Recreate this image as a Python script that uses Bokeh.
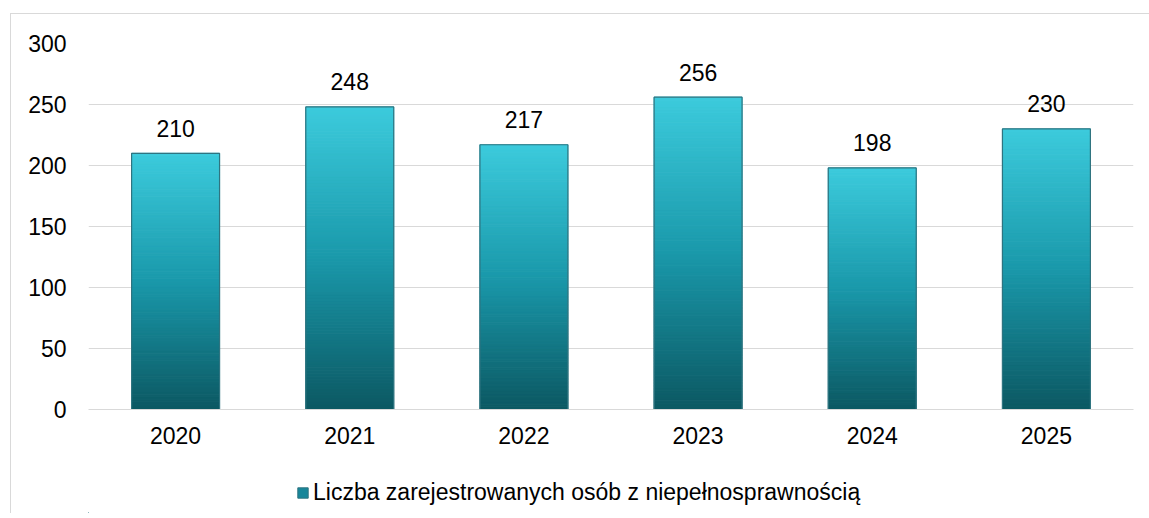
from bokeh.plotting import figure
from bokeh.layouts import column
from bokeh.models import Range1d, FactorRange, ColumnDataSource, Legend, LegendItem
from bokeh.core.properties import value
from bokeh.embed import file_html
from bokeh.resources import INLINE

years = ["2020", "2021", "2022", "2023", "2024", "2025"]
counts = [210, 248, 217, 256, 198, 230]
series_name = "Liczba zarejestrowanych osób z niepełnosprawnością"
y_ticks = [0, 50, 100, 150, 200, 250, 300]

FONT = "Liberation Sans"
FS = "23px"

p = figure(x_range=FactorRange(*years, range_padding=0), y_range=Range1d(0, 300),
           frame_width=1045, frame_height=366, output_backend="svg", toolbar_location=None,
           min_border_left=77, min_border_right=16, min_border_top=29, min_border_bottom=44)
p.outline_line_color = None
p.background_fill_color = "white"
p.border_fill_color = "white"

# gradient bars: each bar stacked from thin slices coloured bottom (dark) -> top (light)
stops = [(0.0, (12, 88, 98)), (0.5, (26, 152, 170)), (1.0, (60, 203, 220))]
def col(t):
    for (t0, c0), (t1, c1) in zip(stops[:-1], stops[1:]):
        if t <= t1:
            f = (t - t0) / (t1 - t0)
            return "#%02x%02x%02x" % tuple(int(round(a + (b - a) * f)) for a, b in zip(c0, c1))
    return "#%02x%02x%02x" % stops[-1][1]

N = 100
xs, bots, tops, cols = [], [], [], []
for yr, v in zip(years, counts):
    for i in range(N):
        xs.append(yr)
        bots.append(v * i / N)
        tops.append(v * (i + 1) / N)
        cols.append(col((i + 0.5) / N))
seg = ColumnDataSource(dict(x=xs, bottom=bots, top=tops, color=cols))
p.vbar(x="x", bottom="bottom", top="top", width=0.505, source=seg,
       fill_color="color", line_color="color", line_width=1)

src = ColumnDataSource(dict(x=years, top=counts, label=[str(c) for c in counts]))
p.vbar(x="x", top="top", width=0.505, source=src, fill_alpha=0,
       line_color="#2f7480", line_width=1.2)

p.text(x="x", y="top", text="label", source=src, text_align="center",
       text_baseline="alphabetic", y_offset=-25, text_font=value(FONT),
       text_font_size=FS, text_color="#000000")

# axes
p.yaxis.ticker = y_ticks
p.yaxis.axis_line_color = None
p.yaxis.major_tick_line_color = None
p.yaxis.minor_tick_line_color = None
p.yaxis.major_tick_out = 0
p.yaxis.minor_tick_out = 0
p.yaxis.major_label_standoff = 22
p.yaxis.major_label_text_font = FONT
p.yaxis.major_label_text_font_size = FS
p.yaxis.major_label_text_color = "#000000"

p.xaxis.axis_line_color = "#d9d9d9"
p.xaxis.axis_line_width = 1
p.xaxis.major_tick_line_color = None
p.xaxis.minor_tick_line_color = None
p.xaxis.major_tick_out = 0
p.xaxis.minor_tick_out = 0
p.xaxis.major_label_standoff = 17
p.xaxis.major_label_text_font = FONT
p.xaxis.major_label_text_font_size = FS
p.xaxis.major_label_text_color = "#000000"

p.xgrid.grid_line_color = None
p.ygrid.grid_line_color = "#d9d9d9"
p.ygrid.grid_line_width = 1

# legend strip below the chart
p2 = figure(x_range=Range1d(0, 1138), y_range=Range1d(0, 60), width=1138, height=60,
            x_axis_type=None, y_axis_type=None, output_backend="svg", toolbar_location=None,
            min_border=0)
p2.outline_line_color = None
p2.xgrid.grid_line_color = None
p2.ygrid.grid_line_color = None
# swatch renderer kept outside the visible range; only its legend glyph is shown
swatch = p2.vbar(x=[-500], top=[1], width=1, fill_color="#17869a",
                 line_color="#2f7480", line_width=1)
legend = Legend(items=[LegendItem(label=series_name, renderers=[swatch])],
                location=(208, 7), orientation="horizontal",
                padding=0, margin=0, spacing=0, label_standoff=4,
                glyph_width=13, glyph_height=13,
                label_text_font=FONT, label_text_font_size=FS,
                label_text_color="#000000", border_line_color=None,
                background_fill_alpha=0)
p2.add_layout(legend, "center")

layout = column(p, p2, spacing=0,
                styles={"margin-left": "10px", "margin-top": "13px",
                        "border-left": "1px solid #d9d9d9", "border-top": "1px solid #d9d9d9"})

open("out.html", "w").write(file_html(layout, INLINE))
